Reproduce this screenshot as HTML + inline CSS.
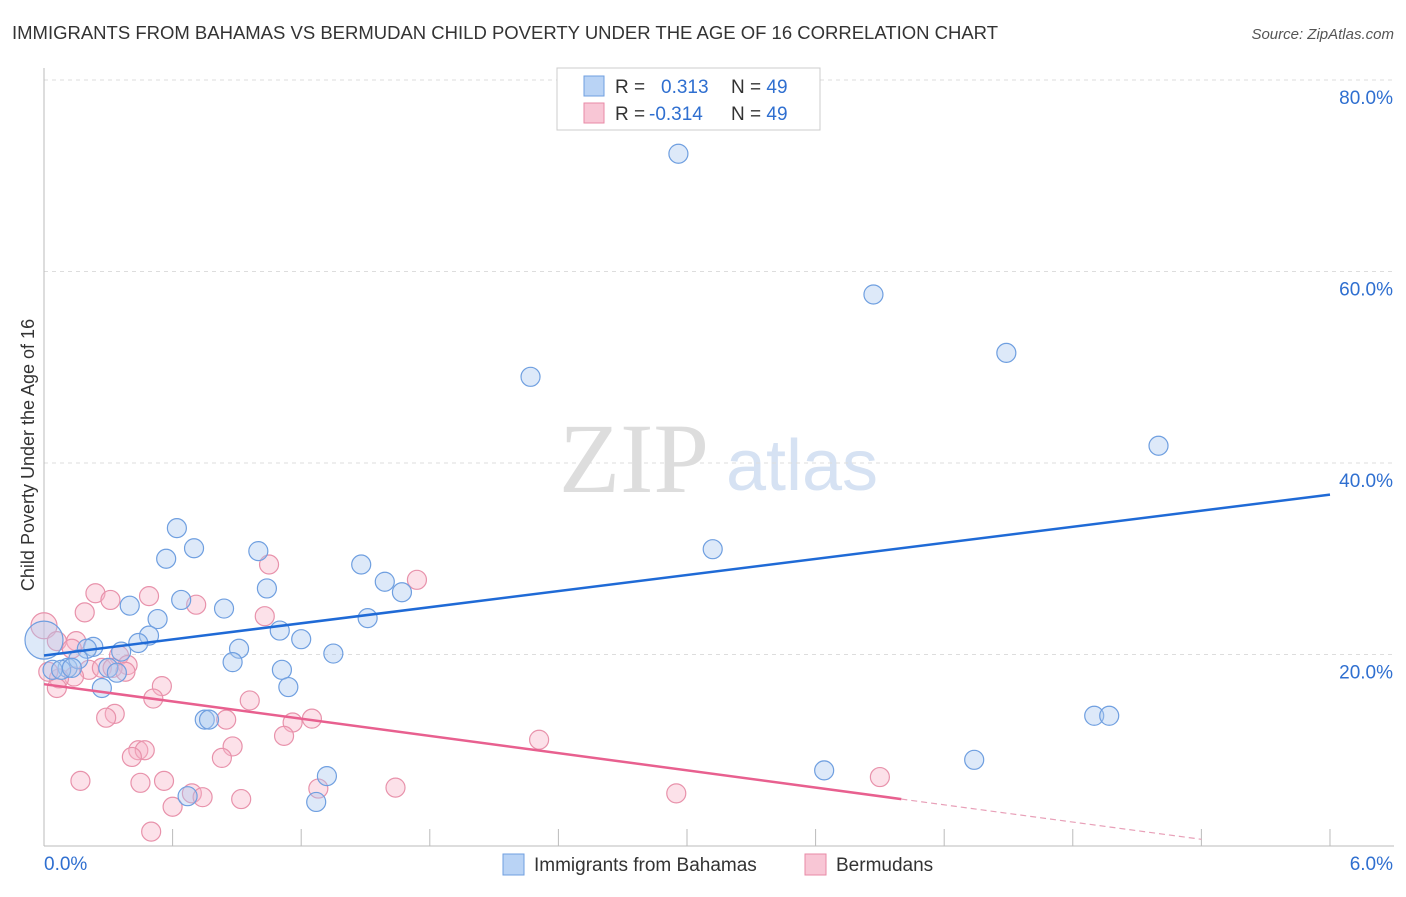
<!DOCTYPE html>
<html><head><meta charset="utf-8"><style>
body{margin:0;background:#fff;font-family:"Liberation Sans",sans-serif;}
</style></head><body>
<svg width="1406" height="892" font-family="Liberation Sans, sans-serif">
<text x="12" y="39" font-size="18" fill="#333" textLength="986" lengthAdjust="spacingAndGlyphs">IMMIGRANTS FROM BAHAMAS VS BERMUDAN CHILD POVERTY UNDER THE AGE OF 16 CORRELATION CHART</text>
<text x="1394" y="39" font-size="15" fill="#555" font-style="italic" text-anchor="end">Source: ZipAtlas.com</text>
<text x="634" y="492" font-size="100" fill="#ddd" style="font-family:'Liberation Serif',serif" text-anchor="middle">ZIP</text>
<text x="802" y="490" font-size="72" fill="#d6e2f3" text-anchor="middle">atlas</text>
<g id="grid"></g>
<g id="axes"></g>
<g id="marks"></g>
<text transform="translate(34,455) rotate(-90)" font-size="18" fill="#333" text-anchor="middle">Child Poverty Under the Age of 16</text>
<g>
<rect x="557" y="68" width="263" height="62" fill="#fff" stroke="#ccc"/>
<rect x="584" y="76" width="20" height="20" fill="#b9d3f5" stroke="#6f9fe0"/>
<rect x="584" y="103" width="20" height="20" fill="#f8c6d5" stroke="#e88aa6"/>
<text x="615" y="93" font-size="19" fill="#333">R = <tspan fill="#2f6fd0" x="661">0.313</tspan><tspan fill="#333" x="731">N = </tspan><tspan fill="#2f6fd0">49</tspan></text>
<text x="615" y="120" font-size="19" fill="#333">R = <tspan fill="#2f6fd0" x="649">-0.314</tspan><tspan fill="#333" x="731">N = </tspan><tspan fill="#2f6fd0">49</tspan></text>
</g>
<g>
<rect x="503" y="854" width="21" height="21" fill="#b9d3f5" stroke="#6f9fe0"/>
<text x="534" y="871" font-size="19" fill="#333">Immigrants from Bahamas</text>
<rect x="805" y="854" width="21" height="21" fill="#f8c6d5" stroke="#e88aa6"/>
<text x="836" y="871" font-size="19" fill="#333">Bermudans</text>
</g>
</svg>
<script>
const yTicks=[20,40,60,80];
const xTickLabels=["0.0%","6.0%"];
const blueX=[2.96,3.87,4.49,2.27,5.20,3.12,0.62,0.70,0.57,1.00,1.48,1.59,1.67,1.04,0.64,0.40,0.84,0.53,1.51,0.49,0.44,1.10,1.20,0.0,0.23,0.20,0.91,1.35,0.36,0.88,0.11,0.16,0.30,0.34,0.04,1.11,0.27,1.14,0.75,0.77,4.90,4.97,4.34,3.64,1.32,0.67,1.27,0.08,0.13];
const blueY=[72.3,57.6,51.5,49.0,41.8,31.0,33.2,31.1,30.0,30.8,29.4,27.6,26.5,26.9,25.7,25.1,24.8,23.7,23.8,21.97,21.2,22.5,21.6,21.5,20.8,20.6,20.6,20.1,20.3,19.2,18.6,19.5,18.6,18.1,18.4,18.4,16.5,16.6,13.2,13.2,13.6,13.6,9.0,7.9,7.3,5.2,4.6,18.4,18.6];
const pinkX=[0.0,0.24,0.31,0.49,0.19,0.71,1.05,1.74,1.03,0.15,0.06,0.13,0.35,0.39,0.21,0.27,0.32,0.38,0.14,0.07,0.06,0.02,0.55,0.51,0.96,0.33,0.29,0.85,1.25,1.16,1.12,2.31,0.88,0.44,0.47,0.41,0.83,0.17,0.45,0.56,0.69,0.74,0.92,1.28,1.64,3.90,2.95,0.60,0.50];
const pinkY=[23.0,26.4,25.7,26.1,24.4,25.2,29.4,27.8,24.0,21.4,21.4,20.6,19.9,18.9,18.4,18.6,18.6,18.2,17.7,17.5,16.5,18.2,16.7,15.4,15.2,13.8,13.4,13.2,13.3,12.9,11.5,11.1,10.4,10.0,10.0,9.3,9.2,6.8,6.6,6.8,5.5,5.1,4.9,6.0,6.1,7.2,5.5,4.1,1.5];
const X=v=>44+v*214.33, Y=v=>846-v*9.575;
const NS="http://www.w3.org/2000/svg";
function mk(tag,attrs,parent){const e=document.createElementNS(NS,tag);for(const k in attrs)e.setAttribute(k,attrs[k]);parent.appendChild(e);return e;}
const grid=document.getElementById('grid'),axes=document.getElementById('axes'),marks=document.getElementById('marks');
yTicks.forEach(t=>{
 const l=mk('line',{x1:44,x2:1394,y1:Y(t),y2:Y(t),stroke:'#ddd','stroke-dasharray':'4,4'},grid);
 
 
 const tx=mk('text',{x:1393,y:Y(t)+24,'font-size':19,fill:'#2f6fd0','text-anchor':'end'},axes);
 tx.textContent=t.toFixed(1)+'%';
 
 
});
mk('line',{x1:44,x2:44,y1:68,y2:846,stroke:'#bbb'},axes);
mk('line',{x1:44,x2:1394,y1:846,y2:846,stroke:'#bbb'},axes);
for(let i=1;i<=10;i++){mk('line',{x1:X(i*0.6),x2:X(i*0.6),y1:829,y2:846,stroke:'#bbb'},axes);}
const xl0=mk('text',{x:44,y:870,'font-size':19,fill:'#2f6fd0'},axes);xl0.textContent=xTickLabels[0];


const xl1=mk('text',{x:1393,y:870,'font-size':19,fill:'#2f6fd0','text-anchor':'end'},axes);xl1.textContent=xTickLabels[1];


pinkX.forEach((v,i)=>{const c=mk('circle',{cx:X(v),cy:Y(pinkY[i]),r:i==0?13:9.5,fill:'rgba(248,180,200,0.4)',stroke:'#e892ab','stroke-width':1.2},marks);
 
 });
blueX.forEach((v,i)=>{const c=mk('circle',{cx:X(v),cy:Y(blueY[i]),r:i==23?19:9.5,fill:'rgba(170,200,240,0.4)',stroke:'#6f9fe0','stroke-width':1.2},marks);
 
 });
const bf=[19.9,2.8], pf=[16.9,-3.0];
const bl=mk('line',{x1:X(0),y1:Y(bf[0]),x2:X(6),y2:Y(bf[0]+bf[1]*6),stroke:'#1f6ad6','stroke-width':2.5},marks);


const pl=mk('line',{x1:X(0),y1:Y(pf[0]),x2:X(4.0),y2:Y(pf[0]+pf[1]*4.0),stroke:'#e8608f','stroke-width':2.5},marks);


const pd=mk('line',{x1:X(4.0),y1:Y(pf[0]+pf[1]*4.0),x2:X(5.4),y2:Y(pf[0]+pf[1]*5.4),stroke:'#e8a0b8','stroke-width':1.2,'stroke-dasharray':'6,4'},marks);


</script>
</body></html>
